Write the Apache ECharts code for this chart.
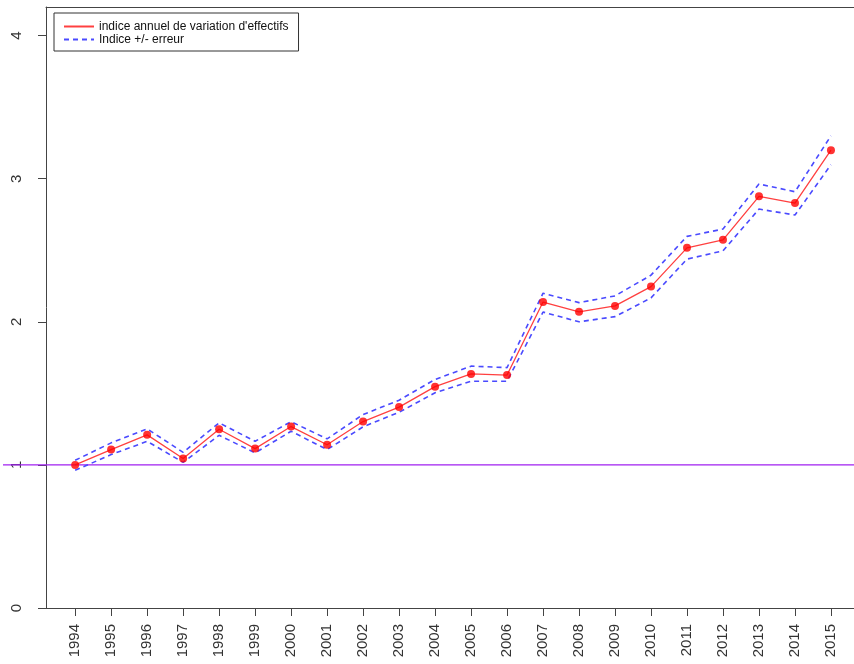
<!DOCTYPE html>
<html>
<head>
<meta charset="utf-8">
<script src="https://cdn.jsdelivr.net/npm/echarts@6/dist/echarts.min.js"></script>
<style>
  html, body { margin: 0; padding: 0; background: #fff; }
  #main { width: 854px; height: 664px; }
</style>
</head>
<body>
<div id="main"></div>
<script>
// annees
var annees = [1994, 1995, 1996, 1997, 1998, 1999, 2000, 2001, 2002, 2003, 2004,
  2005, 2006, 2007, 2008, 2009, 2010, 2011, 2012, 2013, 2014, 2015];
// indice annuel
var indice = [1.00, 1.107, 1.21, 1.045, 1.249, 1.114, 1.268, 1.141, 1.303, 1.404, 1.547,
  1.636, 1.628, 2.138, 2.070, 2.111, 2.246, 2.517, 2.573, 2.877, 2.830, 3.199];
// indice + erreur
var haut = [1.032, 1.154, 1.252, 1.088, 1.294, 1.165, 1.302, 1.182, 1.352, 1.452, 1.597,
  1.690, 1.680, 2.200, 2.134, 2.181, 2.326, 2.597, 2.648, 2.963, 2.909, 3.300];
// indice - erreur
var bas = [0.962, 1.072, 1.165, 1.018, 1.207, 1.084, 1.235, 1.107, 1.266, 1.368, 1.504,
  1.585, 1.585, 2.068, 2.000, 2.036, 2.167, 2.438, 2.496, 2.788, 2.746, 3.098];
var yTicks = [0, 1, 2, 3, 4];
var reference = 1;

function paires(vals) {
  var out = [];
  for (var i = 0; i < annees.length; i++) {
    out.push([annees[i], vals[i]]);
  }
  return out;
}

var chart = echarts.init(document.getElementById('main'));

var axisCol = '#444';
var font = 'Liberation Sans, Arial, sans-serif';

var option = {
  animation: false,
  backgroundColor: '#fff',
  grid: [
    // le cadre continue au-dela du bord droit
    { left: 46, right: 0, top: 7, bottom: 56 },
    // grille pleine largeur pour la ligne horizontale
    { left: 3, right: 0, top: 7, bottom: 56 }
  ],
  xAxis: [
    {
      type: 'value', gridIndex: 0,
      min: 1993.19, max: 2015.64,
      splitLine: { show: false },
      axisLine: { show: true, lineStyle: { color: axisCol } },
      axisTick: { show: true, length: 8, customValues: annees, lineStyle: { color: axisCol } },
      axisLabel: {
        customValues: annees, rotate: 90, margin: 16,
        color: '#333', fontSize: 15, fontFamily: font,
        formatter: function (v) { return String(v); }
      }
    },
    { type: 'value', gridIndex: 1, min: 0, max: 1, show: false },
    // bord haut du cadre
    {
      type: 'value', gridIndex: 0, position: 'top',
      min: 0, max: 1,
      splitLine: { show: false }, axisTick: { show: false }, axisLabel: { show: false },
      axisLine: { show: true, lineStyle: { color: axisCol } }
    }
  ],
  yAxis: [
    {
      type: 'value', gridIndex: 0,
      min: 0, max: 4.2,
      splitLine: { show: false },
      axisLine: { show: true, lineStyle: { color: axisCol } },
      axisTick: { show: true, length: 8, customValues: yTicks, lineStyle: { color: axisCol } },
      axisLabel: {
        customValues: yTicks, rotate: 90, margin: 22,
        color: '#333', fontSize: 15, fontFamily: font
      }
    },
    { type: 'value', gridIndex: 1, min: 0, max: 4.2, show: false }
  ],
  legend: {
    left: 54, top: 13,
    orient: 'vertical',
    data: ["indice annuel de variation d'effectifs", 'Indice +/- erreur'],
    itemWidth: 30, itemHeight: 13, itemGap: 0,
    padding: [7, 10, 5, 9],
    borderColor: '#333', borderWidth: 1, borderRadius: 0,
    itemStyle: { opacity: 0 },
    textStyle: { fontSize: 12, fontFamily: font, color: '#111', lineHeight: 13 }
  },
  series: [
    {
      name: 'ref', type: 'line', xAxisIndex: 1, yAxisIndex: 1,
      data: [[0, reference], [1, reference]],
      symbol: 'none', silent: true, z: 1,
      lineStyle: { color: '#a020f0', width: 1.3 }
    },
    {
      name: 'Indice +/- erreur', type: 'line',
      data: paires(haut), symbol: 'none', z: 2,
      lineStyle: { color: '#4a4aff', width: 1.6, type: [5, 4] },
      itemStyle: { color: '#4a4aff' }
    },
    {
      name: 'Indice +/- erreur', type: 'line',
      data: paires(bas), symbol: 'none', z: 2,
      lineStyle: { color: '#4a4aff', width: 1.6, type: [5, 4] },
      itemStyle: { color: '#4a4aff' }
    },
    {
      name: "indice annuel de variation d'effectifs", type: 'line',
      data: paires(indice), symbol: 'none', z: 3,
      lineStyle: { color: '#ff4040', width: 1.3 },
      itemStyle: { color: '#ff4040' }
    },
    {
      name: 'points', type: 'scatter',
      data: paires(indice), symbol: 'circle', symbolSize: 8, z: 4,
      itemStyle: { color: '#ff0000' }
    }
  ]
};

chart.setOption(option);
</script>
</body>
</html>
